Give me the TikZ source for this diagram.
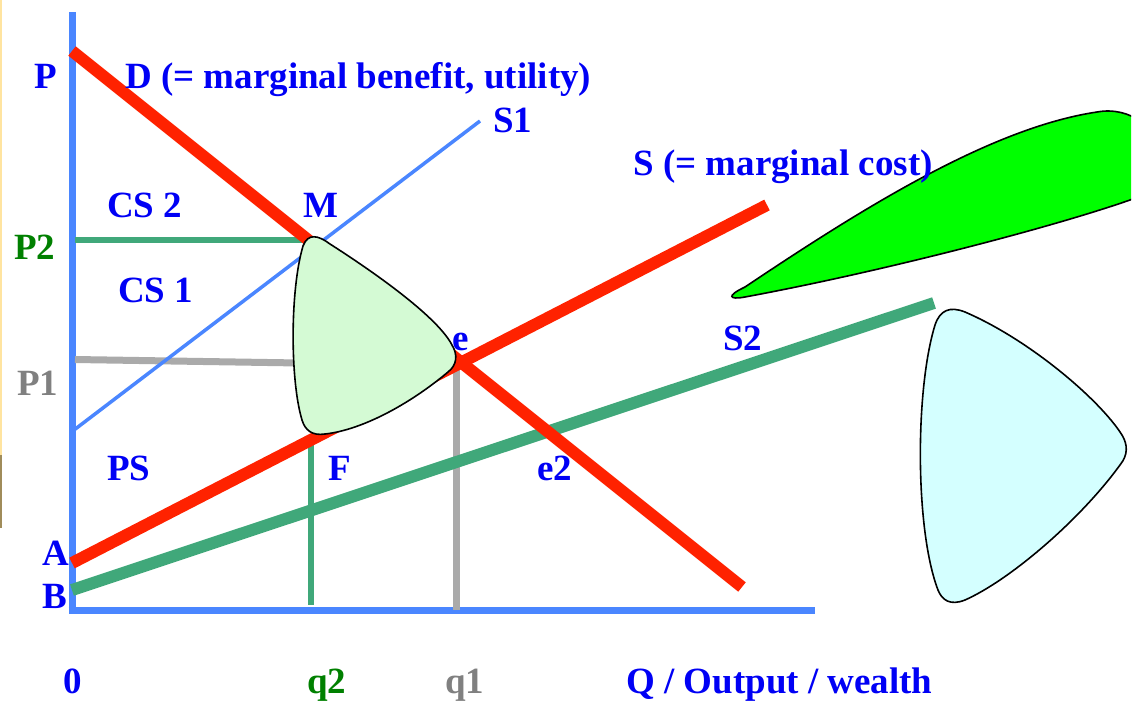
\documentclass[tikz,border=0pt]{standalone}
\usepackage{fontspec}
\setmainfont{Liberation Serif}
\definecolor{txtblue}{RGB}{0,0,245}
\definecolor{txtgreen}{RGB}{0,128,0}
\definecolor{txtgray}{RGB}{128,128,128}
\definecolor{axisblue}{RGB}{74,134,255}
\definecolor{curvered}{RGB}{255,34,0}
\definecolor{curvegreen}{RGB}{64,168,122}
\definecolor{linegray}{RGB}{170,170,170}
\definecolor{palegreen}{RGB}{212,250,212}
\definecolor{palecyan}{RGB}{212,255,255}
\definecolor{brightgreen}{RGB}{0,255,0}
\definecolor{edgeyellow}{RGB}{255,228,160}
\definecolor{edgeolive}{RGB}{160,140,90}
\begin{document}
\begin{tikzpicture}[x=1pt,y=-1pt,
  lbl/.style={font=\fontsize{37}{40}\selectfont\bfseries, text=txtblue, inner sep=0pt, anchor=base west},
  axisline/.style={draw=axisblue, line width=7pt},
  redcurve/.style={draw=curvered, line width=12pt},
  greencurve/.style={draw=curvegreen, line width=12pt},
  thinblue/.style={draw=axisblue, line width=3.5pt},
  greenguide/.style={draw=curvegreen, line width=5.5pt},
  grayguide/.style={draw=linegray, line width=7pt},
  blob/.style={draw=black, line width=1.6pt}]
\useasboundingbox (0,0) rectangle (1136,702);
% left edge strip
\fill[edgeyellow] (0,0) rectangle (2,455);
\fill[edgeolive] (0,455) rectangle (2,528);
% coordinates
\coordinate (ytop) at (72,12);
\coordinate (origin) at (72,613);
\coordinate (ocorner) at (68.5,610);
\coordinate (xend) at (815,610);
\coordinate (Dstart) at (72,51);
\coordinate (Dend) at (742,587);
\coordinate (Sstart) at (72,563);
\coordinate (Send) at (767,205);
\coordinate (S2start) at (72,590);
\coordinate (S2end) at (934,303);
\coordinate (S1start) at (74,430);
\coordinate (S1end) at (480,121);
\coordinate (P2a) at (75,240);
\coordinate (P2b) at (316,240);
\coordinate (q2a) at (311,435);
\coordinate (q2b) at (311,605);
\coordinate (P1a) at (75,359.5);
\coordinate (P1b) at (300,363);
\coordinate (q1a) at (456,365);
\coordinate (q1b) at (456,610);
% axes
\draw[axisline] (ytop) -- (origin);
\draw[axisline] (ocorner) -- (xend);
% guides
\draw[greenguide] (P2a) -- (P2b);
\draw[greenguide] (q2a) -- (q2b);
\draw[grayguide] (P1a) -- (P1b);
\draw[grayguide] (q1a) -- (q1b);
% curves
\draw[thinblue] (S1start) -- (S1end);
\draw[greencurve] (S2start) -- (S2end);
\draw[redcurve] (Sstart) -- (Send);
\draw[redcurve] (Dstart) -- (Dend);
% pale green rounded triangle
\path[blob, fill=palegreen] (303,246)
  .. controls (308,233) and (318,235) .. (330,244)
  .. controls (380,276) and (438,318) .. (452,345)
  .. controls (458,355) and (457,365) .. (448,372)
  .. controls (410,404) and (362,430) .. (325,434)
  .. controls (312,436) and (305,430) .. (302,420)
  .. controls (290,380) and (290,290) .. cycle;
% pale cyan rounded triangle
\path[blob, fill=palecyan] (935,325)
  .. controls (940,310) and (950,306) .. (965,312)
  .. controls (1030,340) and (1100,400) .. (1122,435)
  .. controls (1128,445) and (1128,455) .. (1120,465)
  .. controls (1080,520) and (1010,580) .. (965,600)
  .. controls (950,606) and (942,600) .. (938,590)
  .. controls (915,530) and (915,390) .. cycle;
% bright green blade, clipped at right
\begin{scope}
\clip (700,80) rectangle (1131,320);
\path[blob, fill=brightgreen] (745,287)
  .. controls (860,210) and (990,128) .. (1097,112)
  .. controls (1130,106) and (1160,128) .. (1160,160)
  .. controls (1160,180) and (1150,193) .. (1130,200)
  .. controls (1050,228) and (880,272) .. (745,297)
  .. controls (729,300) and (726,296) .. cycle;
\end{scope}
% labels
\node[lbl] (lP) at (34,88) {P};
\node[lbl] (lD) at (125,88) {D (= marginal benefit, utility)};
\node[lbl] (lS1) at (493,132) {S1};
\node[lbl] (lS) at (633,175) {S (= marginal cost)};
\node[lbl] (lCS2) at (107,217) {CS 2};
\node[lbl] (lM) at (303,217) {M};
\node[lbl, text=txtgreen] (lP2) at (14,259) {P2};
\node[lbl] (lCS1) at (118,302) {CS 1};
\node[lbl] (le) at (452,350) {e};
\node[lbl] (lS2) at (723,350) {S2};
\node[lbl, text=txtgray] (lP1) at (17,395) {P1};
\node[lbl] (lPS) at (107,480) {PS};
\node[lbl] (lF) at (328,480) {F};
\node[lbl] (le2) at (537,480) {e2};
\node[lbl] (lA) at (42,565) {A};
\node[lbl] (lB) at (42,608) {B};
\node[lbl] (l0) at (63,693) {0};
\node[lbl, text=txtgreen] (lq2) at (307,693) {q2};
\node[lbl, text=txtgray] (lq1) at (445,693) {q1};
\node[lbl] (lQ) at (626,693) {Q / Output / wealth};
\end{tikzpicture}
\end{document}
